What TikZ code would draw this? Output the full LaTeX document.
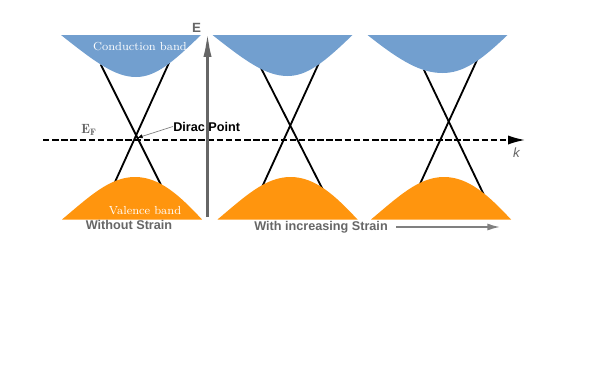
\documentclass[tikz,border=0pt]{standalone}
\usepackage{fontspec}
\setsansfont{Liberation Sans}
\usetikzlibrary{arrows.meta}
\definecolor{bandblue}{HTML}{729FCF}
\definecolor{bandorange}{HTML}{FF950E}
\definecolor{axgray}{HTML}{666666}
\definecolor{arrgray}{HTML}{808080}

\begin{document}
\begin{tikzpicture}[x=0.025cm, y=-0.025cm,
  cone/.style={black, line width=1.3pt, shorten <=-2pt, shorten >=-2pt},
  bandlabel/.style={text=white, inner sep=0pt, anchor=base, font=\fontsize{8.3}{10}\selectfont},
  graylabel/.style={text=axgray, inner sep=0pt, anchor=base, font=\fontsize{9}{11}\selectfont\sffamily\bfseries},
  kaxis/.style={black, line width=1.2pt, dash pattern=on 4.6pt off 1.9pt, -{Latex[length=12pt, width=6.5pt]}},
  eaxis/.style={axgray, line width=2.8pt, -{Latex[length=27pt, width=5.5pt]}},
  strarr/.style={arrgray, line width=1.1pt, -{Latex[length=9pt, width=5pt]}}
]
  \useasboundingbox (0,0) rectangle (599,382);

  \draw[cone] (102,67) -- (162,187);
  \draw[cone] (168,65) -- (115,182);
  \draw[cone] (262,70) -- (323,190);
  \draw[cone] (318,65) -- (263,185);
  \draw[cone] (425,72) -- (483,193);
  \draw[cone] (477,60) -- (420,184);

  \foreach \c/\m/\v in {131/77/132, 282.5/76/287.5, 437.5/73/441} {
    \fill[bandblue, shift={(\c,0)}] (-70,35) .. controls (-36,62) and (-16,\m) .. (5,\m)
      .. controls (25,\m) and (42,62) .. (70,35) -- cycle;
    \fill[bandorange, shift={(\v,0)}] (-70,219.5) .. controls (-42,196) and (-22,177) .. (3,177)
      .. controls (28,177) and (48,196) .. (70,219.5) -- cycle;
  }

  \node[bandlabel] (cond) at (140,50) {Conduction band};
  \node[bandlabel] (val) at (145,214) {Valence band};

  \coordinate (kstart) at (43,140);
  \coordinate (kend) at (525,140);
  \coordinate (dirac1) at (137,138);
  \coordinate (ebot) at (207.5,217);
  \coordinate (etop) at (207.5,19);

  \draw[kaxis] (kstart) -- (kend);
  \node[text=axgray, inner sep=0pt, anchor=base west, font=\fontsize{9.5}{11}\selectfont] (ef) at (81,133) {$\mathbf{E}_{\mathbf{F}}$};
  \node[text=axgray, inner sep=0pt, anchor=base, font=\fontsize{9.5}{11}\selectfont\sffamily\itshape] (klab) at (516.5,157) {k};

  \node[graylabel, text=black, anchor=base west] (dirac) at (173,131) {Dirac Point};
  \draw[arrgray, line width=0.5pt, -{Latex[black, length=4pt, width=3pt]}] (dirac.west) -- (dirac1);

  \draw[eaxis] (ebot) -- (etop);
  \node[graylabel, font=\fontsize{9.5}{11}\selectfont\sffamily\bfseries] (elab) at (196.5,32) {E};

  \node[graylabel] (without) at (129,229.5) {Without Strain};
  \node[graylabel] (with) at (321,230) {With increasing Strain};
  \coordinate (sstart) at (396,227);
  \coordinate (send) at (500,227);
  \draw[strarr] (sstart) -- (send);
\end{tikzpicture}
\end{document}
